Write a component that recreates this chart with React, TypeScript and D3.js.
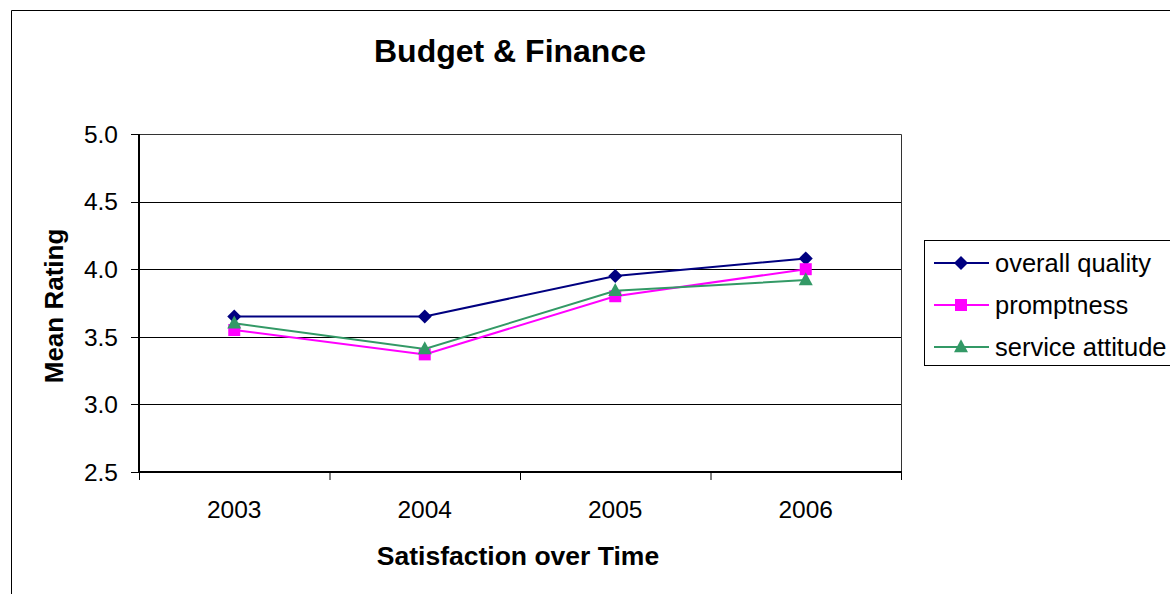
import React from "react";
import * as d3 from "d3";

const years = ["2003", "2004", "2005", "2006"];
const overallQuality = [3.65, 3.65, 3.95, 4.08];
const promptness = [3.55, 3.37, 3.8, 4.0];
const serviceAttitude = [3.6, 3.41, 3.84, 3.92];
const yTicks = [2.5, 3.0, 3.5, 4.0, 4.5, 5.0];
const seriesNames = ["overall quality", "promptness", "service attitude"];
const seriesColors = ["#000080", "#FF00FF", "#339966"];
const seriesShapes = ["diamond", "square", "triangle"];

const W = 1170;
const H = 594;
const FONT = "'Liberation Sans', Arial, Helvetica, sans-serif";

function Marker({ shape, x, y, color }: { shape: string; x: number; y: number; color: string }) {
  if (shape === "diamond") {
    const r = 7;
    return <path d={`M${x},${y - r}L${x + r},${y}L${x},${y + r}L${x - r},${y}Z`} fill={color} />;
  }
  if (shape === "square") {
    const s = 12;
    return <rect x={x - s / 2} y={y - s / 2} width={s} height={s} fill={color} />;
  }
  const h = 13;
  const w = 14;
  return <path d={`M${x},${y - h * 0.6}L${x + w / 2},${y + h * 0.4}L${x - w / 2},${y + h * 0.4}Z`} fill={color} />;
}

export default function App() {
  const left = 139;
  const right = 901;
  const top = 134;
  const bottom = 472;
  const x = d3.scaleBand<string>().domain(years).range([left, right]);
  const y = d3.scaleLinear().domain([2.5, 5]).range([bottom, top]);
  const data = [overallQuality, promptness, serviceAttitude];
  const line = d3
    .line<number>()
    .x((_, i) => (x(years[i]) as number) + x.bandwidth() / 2)
    .y((d) => y(d));

  const boundaries = [...years.map((yr) => x(yr) as number), right];

  const legendRows = [263, 305, 347];

  return (
    <svg
      width={W}
      height={H}
      style={{ position: "absolute", left: 0, top: 0, background: "#fff" }}
      fontFamily={FONT}
    >
      <rect x={0} y={0} width={W} height={H} fill="#fff" />
      {/* outer chart border */}
      <path d={`M11.5,${H + 5}V10.5H${W + 5}`} fill="none" stroke="#000" strokeWidth={1} />

      {/* title */}
      <text x={510} y={62} textAnchor="middle" fontSize={32} fontWeight="bold">
        Budget &amp; Finance
      </text>

      {/* gridlines */}
      {yTicks.slice(1, -1).map((t) => (
        <line key={t} x1={left} x2={right} y1={Math.round(y(t)) + 0.5} y2={Math.round(y(t)) + 0.5} stroke="#000" strokeWidth={1} />
      ))}
      {/* plot border top/right */}
      <path d={`M${left},${top + 0.5}H${right + 0.5}V${bottom}`} fill="none" stroke="#333" strokeWidth={1} />

      {/* y axis */}
      <line x1={left} x2={left} y1={top} y2={bottom + 1} stroke="#000" strokeWidth={2} />
      {yTicks.map((t) => (
        <g key={t}>
          <line x1={131} x2={left} y1={Math.round(y(t)) + 0.5} y2={Math.round(y(t)) + 0.5} stroke="#000" strokeWidth={1} />
          <text x={118} y={y(t) + 8.7} textAnchor="end" fontSize={24.5}>
            {t.toFixed(1)}
          </text>
        </g>
      ))}

      {/* x axis */}
      <line x1={left - 1} x2={right + 1} y1={bottom} y2={bottom} stroke="#000" strokeWidth={2} />
      {boundaries.map((b, i) => (
        <line key={i} x1={b + 0.5} x2={b + 0.5} y1={bottom} y2={bottom + 8} stroke="#000" strokeWidth={1} />
      ))}
      {years.map((yr) => (
        <text key={yr} x={(x(yr) as number) + x.bandwidth() / 2} y={518} textAnchor="middle" fontSize={24.5}>
          {yr}
        </text>
      ))}

      {/* axis titles */}
      <text x={518} y={565} textAnchor="middle" fontSize={26.5} fontWeight="bold">
        Satisfaction over Time
      </text>
      <text
        transform={`translate(63,306) rotate(-90)`}
        textAnchor="middle"
        fontSize={26}
        fontWeight="bold"
      >
        Mean Rating
      </text>

      {/* series */}
      {data.map((vals, si) => (
        <g key={si}>
          <path d={line(vals) || ""} fill="none" stroke={seriesColors[si]} strokeWidth={2} />
          {vals.map((v, i) => (
            <Marker
              key={i}
              shape={seriesShapes[si]}
              x={(x(years[i]) as number) + x.bandwidth() / 2}
              y={y(v)}
              color={seriesColors[si]}
            />
          ))}
        </g>
      ))}

      {/* legend */}
      <rect x={924.5} y={240.5} width={300} height={125} fill="#fff" stroke="#000" strokeWidth={1} />
      {seriesNames.map((name, si) => (
        <g key={name}>
          <line x1={934} x2={989} y1={legendRows[si]} y2={legendRows[si]} stroke={seriesColors[si]} strokeWidth={2} />
          <Marker shape={seriesShapes[si]} x={961} y={legendRows[si]} color={seriesColors[si]} />
          <text x={995} y={legendRows[si] + 8.5} fontSize={25.5}>
            {name}
          </text>
        </g>
      ))}
    </svg>
  );
}
